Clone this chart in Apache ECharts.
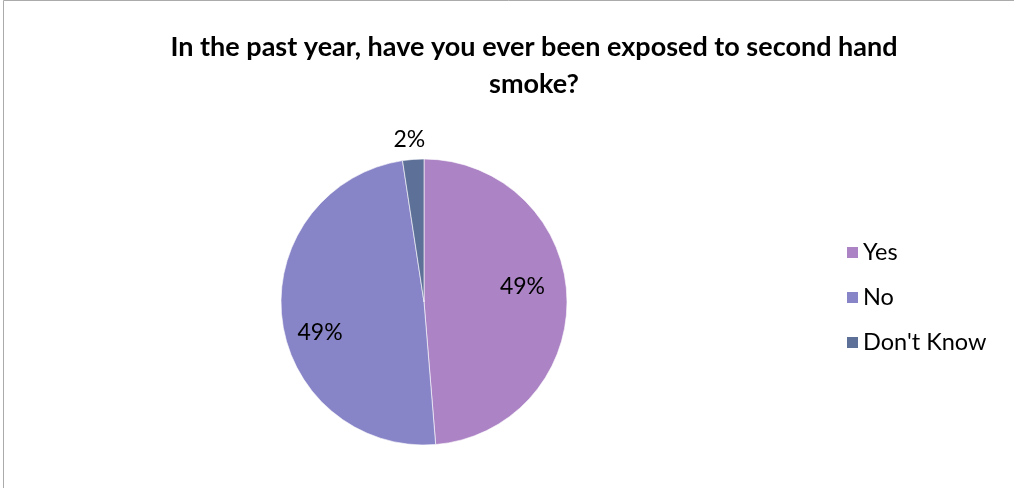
<!DOCTYPE html>
<html>
<head>
<meta charset="utf-8">
<script src="https://cdn.jsdelivr.net/npm/echarts@6/dist/echarts.min.js"></script>
<style>html,body{margin:0;padding:0;background:#fff}#c{width:1014px;height:488px}</style>
</head>
<body>
<div id="c"></div>
<script>
const titleText = 'In the past year, have you ever been exposed to second hand\nsmoke?';
const categories = ['Yes', 'No', "Don't Know"];
const values = [48.7, 48.9, 2.4];
const colors = ['#AC83C4', '#8784C7', '#5D7097'];
// label nudges (Excel best-fit placement), in pixels
const labelNudge = [[24, -12], [-30, 22], [-9, -88]];

const chart = echarts.init(document.getElementById('c'), null, {renderer: 'canvas'});
const FONT = 'Lato';
chart.setOption({
  animation: false,
  backgroundColor: '#ffffff',
  color: colors,
  title: {
    text: titleText,
    left: 529,
    top: 24,
    textAlign: 'center',
    textStyle: {fontFamily: FONT, fontWeight: 'bold', fontSize: 27, lineHeight: 37, color: '#000'}
  },
  legend: {
    orient: 'vertical',
    left: 840,
    top: 235,
    itemWidth: 13,
    itemHeight: 13,
    itemGap: 20,
    icon: 'rect',
    textStyle: {fontFamily: FONT, fontSize: 23.5, lineHeight: 25, color: '#000', padding: [0, 0, 0, -1]},
    data: categories
  },
  graphic: [
    {type: 'polyline', shape: {points: [[3.5, 488], [3.5, 0.5], [1014, 0.5]]}, style: {stroke: '#ababab', lineWidth: 1, fill: null}}
  ],
  series: [{
    type: 'pie',
    center: [424, 302],
    radius: 143,
    startAngle: 90,
    clockwise: true,
    avoidLabelOverlap: false,
    itemStyle: {borderColor: '#ffffff', borderWidth: 0.6},
    label: {
      show: true,
      position: 'inside',
      fontFamily: FONT,
      fontSize: 23,
      color: '#000',
      formatter: p => Math.round(p.percent) + '%'
    },
    labelLine: {show: false},
    labelLayout: p => ({dx: labelNudge[p.dataIndex][0], dy: labelNudge[p.dataIndex][1]}),
    data: categories.map((n, i) => ({name: n, value: values[i]}))
  }]
});
</script>
</body>
</html>
